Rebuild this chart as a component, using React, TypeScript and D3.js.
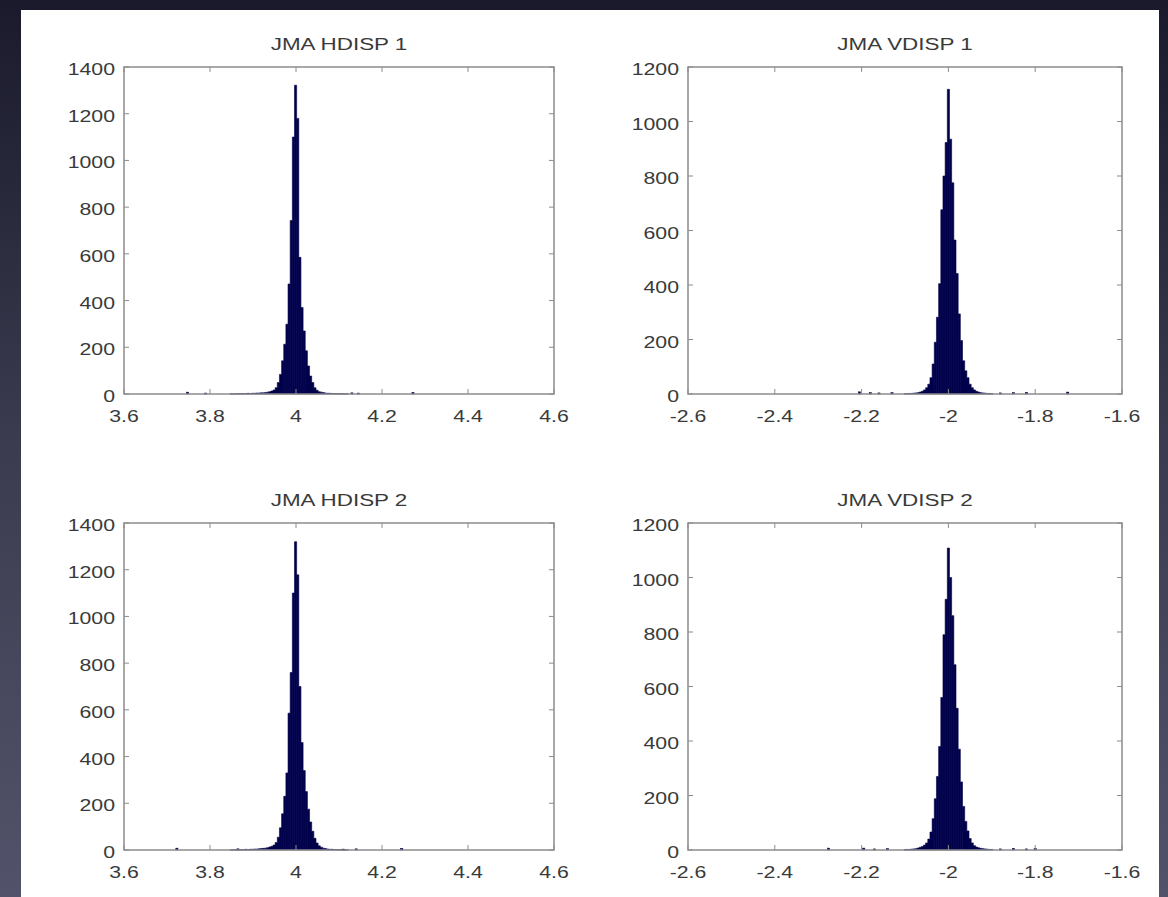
import React from 'react';
import * as d3 from 'd3';

// ---------- data ----------
const BIN_WIDTH = 0.005;

const hXTicks = [3.6, 3.8, 4.0, 4.2, 4.4, 4.6];
const vXTicks = [-2.6, -2.4, -2.2, -2.0, -1.8, -1.6];
const hYTicks = [0, 200, 400, 600, 800, 1000, 1200, 1400];
const vYTicks = [0, 200, 400, 600, 800, 1000, 1200];

const titles = ['JMA HDISP 1', 'JMA VDISP 1', 'JMA HDISP 2', 'JMA VDISP 2'];

// histogram bins (left edge of first bin, then counts per 0.005 bin)
const hdisp1Start = 3.8465;
const hdisp1Counts = [
  1, 0, 1, 1, 2, 1, 2, 2, 3, 2,
  3, 3, 4, 4, 5,
  5, 6, 8, 10, 13,
  17, 27, 49, 84, 142, 213, 299, 471, 743, 1100,
  1322,
  1180, 585, 370, 270, 185, 120, 77, 49, 27, 16,
  10, 8, 6, 4, 3, 3, 2, 2, 1, 2, 1, 1, 0, 1,
];
const hdisp1Outliers = [[3.748, 8], [3.79, 4], [4.13, 5], [4.145, 4], [4.272, 7]];

const hdisp2Start = 3.8465;
const hdisp2Counts = [
  0, 1, 1, 2, 1, 1, 2, 3, 2, 3,
  3, 4, 4, 5, 6,
  7, 8, 10, 13, 16,
  21, 32, 55, 95, 155, 230, 330, 586, 760, 1100,
  1320,
  1178, 700, 460, 340, 250, 175, 120, 80, 50, 30,
  18, 12, 8, 6, 4, 3, 3, 2, 2, 1, 2, 1, 0, 1,
];
const hdisp2Outliers = [[3.723, 8], [3.865, 5], [4.11, 4], [4.14, 5], [4.246, 7]];

const vdisp1Start = -2.1025;
const vdisp1Counts = [
  1, 1, 2, 2, 3, 4, 5, 7, 10, 15,
  23, 36, 60, 110, 190, 282, 405, 676, 800, 923,
  1118,
  935, 775, 565, 442, 294, 196, 122, 85, 60, 36,
  23, 15, 10, 7, 5, 4, 3, 2, 2, 1,
];
const vdisp1Outliers = [[-2.205, 8], [-2.18, 5], [-2.16, 4], [-2.13, 5], [-1.88, 4], [-1.85, 5], [-1.82, 6], [-1.725, 7]];

const vdisp2Start = -2.1025;
const vdisp2Counts = [
  1, 2, 2, 3, 4, 5, 7, 10, 13, 18,
  26, 40, 66, 115, 188, 270, 380, 560, 790, 920,
  1108,
  1000, 860, 680, 520, 370, 250, 160, 105, 70, 42,
  26, 16, 11, 8, 6, 5, 4, 3, 2, 2,
];
const vdisp2Outliers = [[-2.276, 7], [-2.195, 7], [-2.17, 4], [-2.14, 5], [-1.88, 4], [-1.85, 6], [-1.82, 4], [-1.80, 6]];

// ---------- layout ----------
const W = 1168;
const H = 897;
const FONT = '"Liberation Sans", Arial, Helvetica, sans-serif';
const TEXT_SX = 1.25;

type PanelDef = {
  title: string;
  left: number; right: number; top: number; bottom: number;
  xDomain: [number, number]; xTicks: number[];
  yMax: number; yTicks: number[];
  start: number; counts: number[]; outliers: number[][];
};

const panels: PanelDef[] = [
  { title: titles[0], left: 124, right: 554, top: 67, bottom: 394, xDomain: [3.6, 4.6], xTicks: hXTicks, yMax: 1400, yTicks: hYTicks, start: hdisp1Start, counts: hdisp1Counts, outliers: hdisp1Outliers },
  { title: titles[1], left: 688, right: 1122, top: 67, bottom: 394, xDomain: [-2.6, -1.6], xTicks: vXTicks, yMax: 1200, yTicks: vYTicks, start: vdisp1Start, counts: vdisp1Counts, outliers: vdisp1Outliers },
  { title: titles[2], left: 124, right: 554, top: 523, bottom: 850, xDomain: [3.6, 4.6], xTicks: hXTicks, yMax: 1400, yTicks: hYTicks, start: hdisp2Start, counts: hdisp2Counts, outliers: hdisp2Outliers },
  { title: titles[3], left: 688, right: 1122, top: 523, bottom: 850, xDomain: [-2.6, -1.6], xTicks: vXTicks, yMax: 1200, yTicks: vYTicks, start: vdisp2Start, counts: vdisp2Counts, outliers: vdisp2Outliers },
];

const fmt = (v: number) => String(Math.round(v * 10) / 10);

function Panel({ p }: { p: PanelDef }) {
  const x = d3.scaleLinear().domain(p.xDomain).range([p.left, p.right]);
  const y = d3.scaleLinear().domain([0, p.yMax]).range([p.bottom, p.top]);
  const bins = p.counts.map((c, i) => ({ x0: p.start + i * BIN_WIDTH, x1: p.start + (i + 1) * BIN_WIDTH, c }));
  const outs = p.outliers.map(([v, c]) => ({ x0: v - BIN_WIDTH / 2, x1: v + BIN_WIDTH / 2, c }));

  // single stepped outline for the contiguous bins
  const path = d3.path();
  path.moveTo(x(bins[0].x0), y(0));
  bins.forEach((b) => {
    path.lineTo(x(b.x0), y(b.c));
    path.lineTo(x(b.x1), y(b.c));
  });
  path.lineTo(x(bins[bins.length - 1].x1), y(0));
  path.closePath();

  const tl = 5;
  const axisColor = '#8c8c8c';
  const textColor = '#3a3a3a';
  const cx = (p.left + p.right) / 2;
  return (
    <g>
      <path d={path.toString()} fill="#00004a" stroke="#00004a" strokeWidth={0.6} strokeLinejoin="miter" />
      {bins.map((b, i) => (
        b.c > 150 ? <line key={'s' + i} x1={x(b.x0)} x2={x(b.x0)} y1={y(0)} y2={y(Math.min(b.c, bins[Math.max(0, i - 1)].c))}
          stroke="#1a1a66" strokeWidth={0.4} /> : null
      ))}
      {outs.map((b, i) => (
        <rect key={'o' + i} x={x(b.x0)} y={y(b.c)} width={x(b.x1) - x(b.x0)} height={y(0) - y(b.c)}
          fill="#00004a" stroke="#00004a" strokeWidth={0.5} />
      ))}
      <rect x={p.left} y={p.top} width={p.right - p.left} height={p.bottom - p.top}
        fill="none" stroke={axisColor} strokeWidth={1.5} />
      {p.xTicks.map((t, i) => (
        <g key={'xt' + i}>
          <line x1={x(t)} x2={x(t)} y1={p.bottom} y2={p.bottom - tl} stroke={axisColor} strokeWidth={1} />
          <line x1={x(t)} x2={x(t)} y1={p.top} y2={p.top + tl} stroke={axisColor} strokeWidth={1} />
          <text transform={`translate(${x(t)},${p.bottom + 28}) scale(${TEXT_SX},1)`} textAnchor="middle"
            fontFamily={FONT} fontSize={17} fill={textColor}>{fmt(t)}</text>
        </g>
      ))}
      {p.yTicks.map((t, i) => (
        <g key={'yt' + i}>
          <line x1={p.left} x2={p.left + tl} y1={y(t)} y2={y(t)} stroke={axisColor} strokeWidth={1} />
          <line x1={p.right} x2={p.right - tl} y1={y(t)} y2={y(t)} stroke={axisColor} strokeWidth={1} />
          <text transform={`translate(${p.left - 9},${y(t) + 8}) scale(${TEXT_SX},1)`} textAnchor="end"
            fontFamily={FONT} fontSize={17} fill={textColor}>{String(t)}</text>
        </g>
      ))}
      <text transform={`translate(${cx},${p.top - 17}) scale(1.32,1)`} textAnchor="middle"
        fontFamily={FONT} fontSize={17} fill={textColor}>{p.title}</text>
    </g>
  );
}

export default function App() {
  return (
    <svg width={W} height={H} style={{ position: 'fixed', left: 0, top: 0, display: 'block' }}>
      <defs>
        <linearGradient id="bg" x1="0" y1="0" x2="0" y2="1">
          <stop offset="0" stopColor="#1a1a2c" />
          <stop offset="0.5" stopColor="#3c3c50" />
          <stop offset="1" stopColor="#52526a" />
        </linearGradient>
      </defs>
      <rect x={0} y={0} width={W} height={H} fill="url(#bg)" />
      <rect x={21} y={10} width={1159 - 21} height={H} fill="#ffffff" />
      {panels.map((p, i) => <Panel key={i} p={p} />)}
    </svg>
  );
}
